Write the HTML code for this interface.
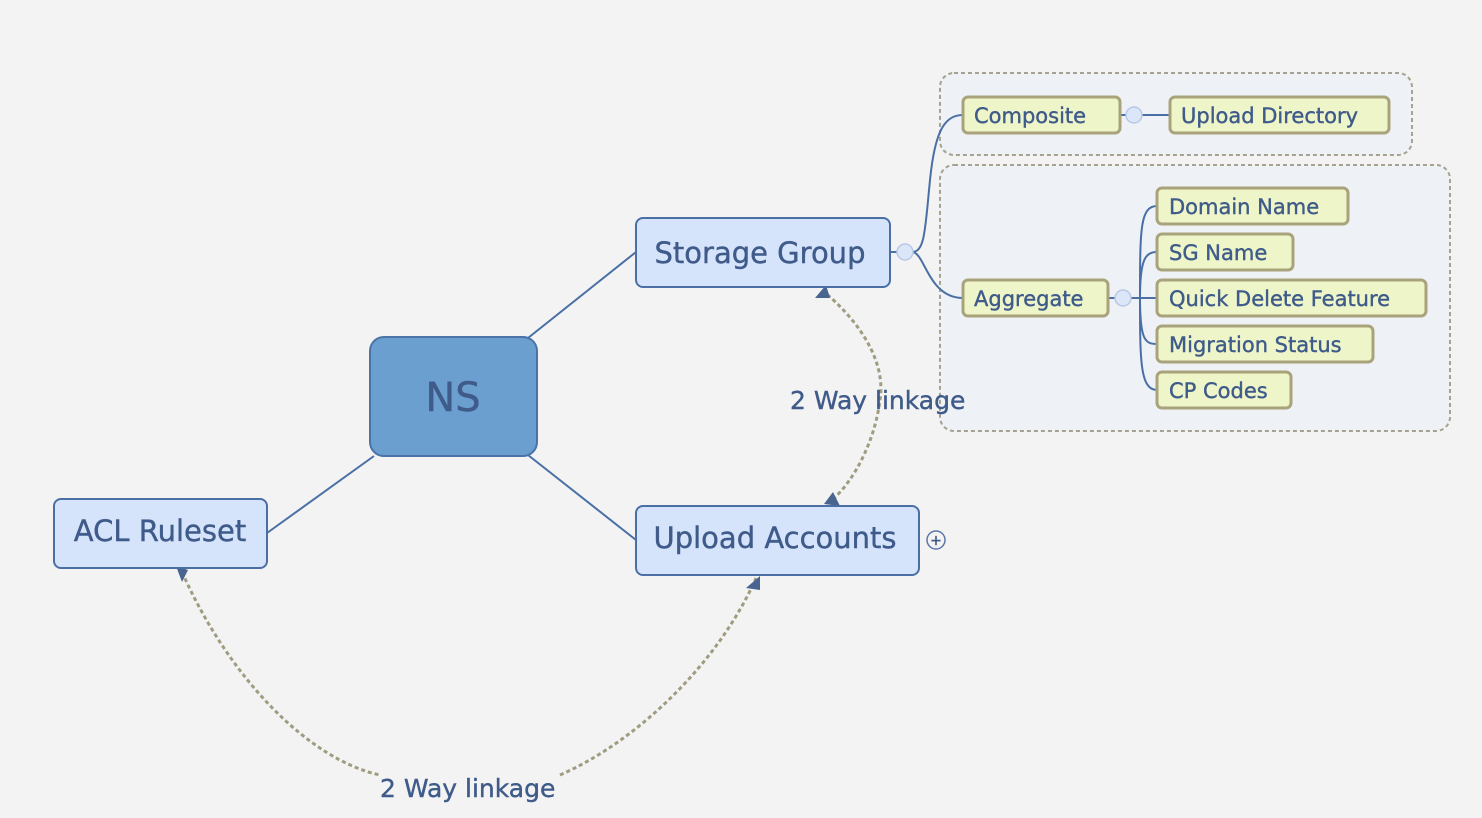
<!DOCTYPE html>
<html><head><meta charset="utf-8"><style>
html,body{margin:0;padding:0;background:#f3f3f3;}
svg{display:block;}
text{font-family:"DejaVu Sans","Liberation Sans",sans-serif;fill:#3f5b8a;stroke:#3f5b8a;stroke-width:0.4;}
</style></head><body>
<svg width="1482" height="818" viewBox="0 0 1482 818" xmlns="http://www.w3.org/2000/svg">
<rect width="1482" height="818" fill="#f3f3f3"/>
<rect x="940" y="73" width="472" height="82" rx="14" fill="#eef1f6" stroke="#a4a290" stroke-width="2" stroke-dasharray="4,3"/>
<rect x="940" y="165" width="510" height="266" rx="14" fill="#eef1f6" stroke="#a4a290" stroke-width="2" stroke-dasharray="4,3"/>
<g stroke="#4a6fa5" stroke-width="2" fill="none">
<line x1="528" y1="338" x2="636" y2="252"/>
<line x1="528" y1="455" x2="636" y2="540"/>
<line x1="374" y1="456" x2="267" y2="533"/>
<path d="M890 252 H898"/>
<path d="M912 252 C925 252 925 230 930 180 C935 130 945 115 963 115"/>
<path d="M912 252 C925 252 928 298 963 298"/>
<path d="M1120 115 H1127 M1141 115 H1170"/>
<path d="M1108 298 H1116 M1130 298 H1157"/>
<path d="M1140 298 C1140 230 1140 206 1157 206"/>
<path d="M1140 298 C1140 260 1145 252 1157 252"/>
<path d="M1140 298 C1140 340 1145 344 1157 344"/>
<path d="M1140 298 C1140 360 1140 390 1157 390"/>
</g>
<g fill="#dbe6f8" stroke="#b8c8e6" stroke-width="1.5">
<circle cx="905" cy="252" r="8"/><circle cx="1134" cy="115" r="8"/><circle cx="1123" cy="298" r="8"/>
</g>
<circle cx="936" cy="540" r="9" fill="#f3f3f3" stroke="#5a78a8" stroke-width="1.5"/>
<text x="936" y="545" font-size="14" text-anchor="middle">+</text>
<g stroke="#a09c80" stroke-width="3" fill="none" stroke-dasharray="4,3">
<path d="M822 290 C870 330 885 370 880 400 C875 440 855 480 832 500"/>
<path d="M182 572 C230 680 310 760 380 775"/>
<path d="M560 775 C640 740 720 660 756 578"/>
</g>
<g fill="#4a6490">
<polygon points="815,298 826,285 830,298"/>
<polygon points="824,504 833,492 840,506"/>
<polygon points="176,566 188,570 182,582"/>
<polygon points="746,588 760,576 760,590"/>
</g>
<rect x="636" y="218" width="254" height="69" rx="7" fill="#d6e4fb" stroke="#4a6fa5" stroke-width="2"/>
<text x="760" y="263" font-size="29" text-anchor="middle">Storage Group</text>
<rect x="370" y="337" width="167" height="119" rx="14" fill="#6b9fd0" stroke="#4a73a8" stroke-width="2"/>
<text x="453" y="411" font-size="40" text-anchor="middle" fill="#3d5a8c" stroke="#3d5a8c" stroke-width="1">NS</text>
<rect x="54" y="499" width="213" height="69" rx="7" fill="#d6e4fb" stroke="#4a6fa5" stroke-width="2"/>
<text x="160" y="541" font-size="29" text-anchor="middle">ACL Ruleset</text>
<rect x="636" y="506" width="283" height="69" rx="7" fill="#d6e4fb" stroke="#4a6fa5" stroke-width="2"/>
<text x="775" y="548" font-size="29" text-anchor="middle">Upload Accounts</text>
<g fill="#eef5c8" stroke="#a9a37c" stroke-width="3">
<rect x="963" y="97" width="157" height="36" rx="5"/>
<rect x="1170" y="97" width="219" height="36" rx="5"/>
<rect x="963" y="280" width="145" height="36" rx="5"/>
<rect x="1157" y="188" width="191" height="36" rx="5"/>
<rect x="1157" y="234" width="136" height="36" rx="5"/>
<rect x="1157" y="280" width="269" height="36" rx="5"/>
<rect x="1157" y="326" width="216" height="36" rx="5"/>
<rect x="1157" y="372" width="134" height="36" rx="5"/>
</g>
<g font-size="21">
<text x="974" y="123">Composite</text>
<text x="1181" y="123">Upload Directory</text>
<text x="974" y="306">Aggregate</text>
<text x="1169" y="214">Domain Name</text>
<text x="1169" y="260">SG Name</text>
<text x="1169" y="306">Quick Delete Feature</text>
<text x="1169" y="352">Migration Status</text>
<text x="1169" y="398">CP Codes</text>
</g>
<text x="790" y="409" font-size="25">2 Way linkage</text>
<text x="380" y="797" font-size="25">2 Way linkage</text>
</svg>
</body></html>
